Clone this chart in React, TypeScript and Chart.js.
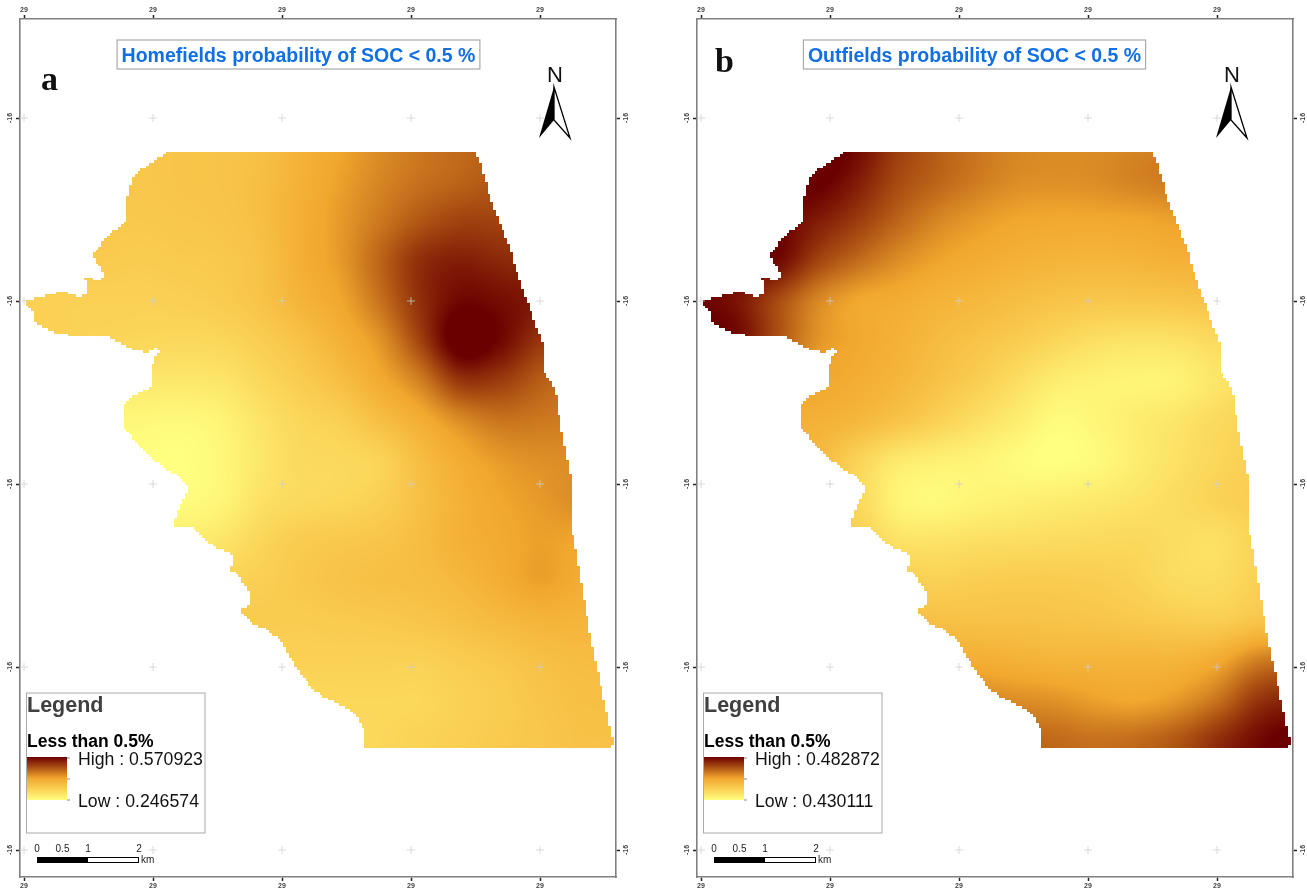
import React, { useEffect, useRef } from "react";
import { Chart, registerables } from "chart.js";

Chart.register(...registerables);

const FONT = '"Liberation Sans", Arial, sans-serif';
const SERIF = '"Liberation Serif", serif';

// Map axes
const lonTicks = [24, 153, 282, 411, 540];
const latTicks = [118, 301, 484, 667, 850];
const lonLabel = "29";
const latLabel = "-16";

// Raster sampling nodes
const lonNodes = [20, 60, 100, 140, 180, 220, 260, 300, 340, 380, 420, 460, 500, 540, 580, 620];
const latNodes = [140, 180, 220, 260, 300, 340, 380, 420, 460, 500, 540, 580, 620, 660, 700, 740, 780];

// Shared study-area outline
const outlineLon = [167,476,481,493,507,522,543,544,555,560,572,572,580,588,602,612,612,363,363,358,347,327,313,300,290,282,268,250,240,248,248,240,230,233,217,202,190,175,175,183,189,180,167,150,143,123,123,128,150,153,159,155,147,130,108,77,50,35,32,23,48,63,78,87,85,97,106,98,92,110,125,127,132,140,155];
const outlineLat = [152,152,165,207,241,288,345,372,389,425,484,531,575,626,693,737,746,746,730,718,708,698,690,673,657,642,630,622,610,605,592,577,570,554,548,537,525,527,517,498,488,477,470,457,450,427,407,398,387,360,352,347,353,348,337,337,331,322,310,301,295,291,297,292,276,280,276,265,254,233,222,197,177,170,160];

// Homefields probability (relative 0 = low, 100+ = high), one array per latitude node
const home140 = [31,31,31,31,32,33,35,43,50,58,64,68,72,72,72,72];
const home180 = [31,31,31,31,32,33,36,44,52,60,66,70,74,74,74,74];
const home220 = [30,30,30,30,31,32,36,45,54,64,74,80,80,80,80,80];
const home260 = [28,29,29,28,29,30,34,45,54,70,86,91,88,86,86,86];
const home300 = [25,25,25,25,26,28,33,42,50,66,86,98,96,92,90,90];
const home340 = [24,24,23,22,21,22,27,34,44,56,80,106,98,84,80,80];
const home380 = [15,14,13,13,13,14,21,28,36,48,62,84,82,72,66,66];
const home420 = [5,5,5,4,3,6,15,22,26,36,46,58,65,64,62,62];
const home460 = [2,2,2,1,0,4,13,20,21,24,37,47,54,57,58,58];
const home500 = [2,2,2,2,2,5,16,20,22,26,35,44,50,54,58,58];
const home540 = [8,8,8,8,10,14,22,28,30,32,37,44,48,52,50,50];
const home580 = [20,20,20,20,22,24,26,30,33,35,36,40,46,52,47,47];
const home620 = [28,28,28,28,28,28,28,28,29,30,32,35,39,42,42,42];
const home660 = [25,25,25,25,25,25,25,25,25,25,25,28,31,35,37,37];
const home700 = [22,22,22,22,22,22,22,22,22,22,22,25,28,32,35,35];
const home740 = [22,22,22,22,22,22,22,22,22,22,24,26,29,31,34,34];
const home780 = [22,22,22,22,22,22,22,22,22,22,24,26,29,31,34,34];

// Outfields probability
const out140 = [100,100,100,106,98,82,72,65,60,58,58,60,62,62,62,62];
const out180 = [100,100,100,102,92,78,70,63,58,57,58,61,63,63,63,63];
const out220 = [100,100,100,92,82,70,60,54,50,49,49,50,52,52,52,52];
const out260 = [100,100,98,80,68,58,51,47,44,42,41,42,44,44,44,44];
const out300 = [100,94,78,60,50,47,43,40,36,33,31,31,32,34,34,34];
const out340 = [100,95,75,56,49,44,38,33,28,22,17,15,16,20,20,20];
const out380 = [70,60,54,50,46,41,34,27,18,10,7,6,7,14,20,20];
const out420 = [50,48,46,44,40,33,25,17,10,2,5,10,14,20,24,24];
const out460 = [38,38,38,38,24,12,8,6,2,0,3,10,16,22,26,26];
const out500 = [34,34,34,30,22,6,3,6,8,10,12,15,19,24,27,27];
const out540 = [32,32,32,30,26,16,15,17,18,19,20,21,18,17,24,24];
const out580 = [32,32,32,32,30,28,25,27,28,28,27,24,19,19,25,26];
const out620 = [36,36,36,36,36,36,35,34,34,33,32,30,28,27,32,34];
const out660 = [46,46,46,46,46,46,46,46,44,42,42,42,42,48,62,66];
const out700 = [60,60,60,60,60,60,60,60,58,56,52,50,55,66,84,90];
const out740 = [72,72,72,72,72,72,72,72,70,68,66,68,74,86,97,104];
const out780 = [72,72,72,72,72,72,72,72,70,68,66,68,74,86,97,104];

const homeRows = [home140,home180,home220,home260,home300,home340,home380,home420,home460,home500,home540,home580,home620,home660,home700,home740,home780];
const outRows = [out140,out180,out220,out260,out300,out340,out380,out420,out460,out500,out540,out580,out620,out660,out700,out740,out780];

// Colour ramp (Yellow to Dark Red)
const rampStops = [[255,255,128],[250,209,85],[242,167,46],[173,83,19],[107,0,0]];

const homeInfo = { letter: "a", title: "Homefields probability of SOC < 0.5 %", high: "High : 0.570923", low: "Low : 0.246574" };
const outInfo = { letter: "b", title: "Outfields probability of SOC < 0.5 %", high: "High : 0.482872", low: "Low : 0.430111" };
const scaleLabels = ["0", "0.5", "1", "2"];

function rampColor(v: number) {
  const t = Math.max(0, Math.min(99.999, v)) / 25;
  const i = Math.floor(t);
  const f = t - i;
  const a = rampStops[i], b = rampStops[i + 1];
  return [a[0] + (b[0] - a[0]) * f, a[1] + (b[1] - a[1]) * f, a[2] + (b[2] - a[2]) * f];
}

function cubic(p0: number, p1: number, p2: number, p3: number, t: number) {
  return p1 + 0.5 * t * (p2 - p0 + t * (2 * p0 - 5 * p1 + 4 * p2 - p3 + t * (3 * (p1 - p2) + p3 - p0)));
}

const rasterPlugin = {
  id: "raster",
  beforeDatasetsDraw(chart: any) {
    const { ctx, scales } = chart;
    const xs = scales.x, ys = scales.y;
    const cells = chart.data.datasets[0].data as any[];
    const outline = chart.data.datasets[1].data as any[];
    const nx = lonNodes.length, ny = latNodes.length;
    const W = chart.width, H = chart.height;
    const grid = new Float32Array(nx * ny);
    cells.forEach((c: any, i: number) => (grid[i] = c.v));
    const at = (i: number, j: number) =>
      grid[Math.max(0, Math.min(ny - 1, j)) * nx + Math.max(0, Math.min(nx - 1, i))];

    // stair-stepped mask, like a coarse raster
    const cell = 2.8;
    const mw = Math.ceil(W / cell), mh = Math.ceil(H / cell);
    const maskCanvas = document.createElement("canvas");
    maskCanvas.width = mw;
    maskCanvas.height = mh;
    const mctx = maskCanvas.getContext("2d", { willReadFrequently: true }) as CanvasRenderingContext2D;
    mctx.beginPath();
    outline.forEach((p: any, i: number) => {
      const px = xs.getPixelForValue(p.x) / cell, py = ys.getPixelForValue(p.y) / cell;
      if (i) mctx.lineTo(px, py);
      else mctx.moveTo(px, py);
    });
    mctx.closePath();
    mctx.fillStyle = "#000";
    mctx.fill();
    const mask = mctx.getImageData(0, 0, mw, mh).data;

    const off = document.createElement("canvas");
    off.width = W;
    off.height = H;
    const octx = off.getContext("2d") as CanvasRenderingContext2D;
    const img = octx.createImageData(W, H);
    const x0 = lonNodes[0], dx = lonNodes[1] - lonNodes[0];
    const y0 = latNodes[0], dy = latNodes[1] - latNodes[0];
    for (let py = 0; py < H; py++) {
      const my = Math.floor(py / cell);
      const gy = (ys.getValueForPixel(py) - y0) / dy;
      const j = Math.floor(gy), ty = gy - j;
      for (let px = 0; px < W; px++) {
        const mx = Math.floor(px / cell);
        if (mask[(my * mw + mx) * 4 + 3] < 128) continue;
        const gx = (xs.getValueForPixel(px) - x0) / dx;
        const i = Math.floor(gx), tx = gx - i;
        const col = [-1, 0, 1, 2].map((o) =>
          cubic(at(i - 1, j + o), at(i, j + o), at(i + 1, j + o), at(i + 2, j + o), tx)
        );
        const c = rampColor(cubic(col[0], col[1], col[2], col[3], ty));
        const k = (py * W + px) * 4;
        img.data[k] = c[0];
        img.data[k + 1] = c[1];
        img.data[k + 2] = c[2];
        img.data[k + 3] = 255;
      }
    }
    octx.putImageData(img, 0, 0);
    ctx.save();
    (ctx as any).filter = "blur(0.6px)";
    ctx.drawImage(off, 0, 0);
    ctx.restore();
  },
};

const overlayPlugin = {
  id: "overlay",
  afterDatasetsDraw(chart: any, _args: any, opts: any) {
    const ctx: CanvasRenderingContext2D = chart.ctx;
    const info = opts.info;
    ctx.save();
    ctx.textBaseline = "alphabetic";
    ctx.textAlign = "left";

    // letter
    ctx.fillStyle = "#111";
    ctx.font = `bold 34px ${SERIF}`;
    ctx.fillText(info.letter, info.letter === "a" ? 41 : 38, info.letter === "a" ? 90 : 72);

    // title box
    ctx.font = `bold 19.5px ${FONT}`;
    const tw = ctx.measureText(info.title).width;
    const cx = info.letter === "a" ? 298.5 : 297.5;
    const boxW = tw + 9;
    ctx.fillStyle = "#fff";
    ctx.fillRect(cx - boxW / 2, 40, boxW, 29);
    ctx.strokeStyle = "#aaa";
    ctx.lineWidth = 1.2;
    ctx.strokeRect(cx - boxW / 2, 40, boxW, 29);
    ctx.fillStyle = "#0f6fe3";
    ctx.fillText(info.title, cx - tw / 2, 62);

    // north arrow
    ctx.fillStyle = "#111";
    ctx.font = `22px ${FONT}`;
    ctx.textAlign = "center";
    ctx.fillText("N", 555, 82);
    ctx.textAlign = "left";
    ctx.beginPath();
    ctx.moveTo(554, 87);
    ctx.lineTo(539, 138);
    ctx.lineTo(554, 120);
    ctx.closePath();
    ctx.fillStyle = "#000";
    ctx.fill();
    ctx.beginPath();
    ctx.moveTo(554, 87);
    ctx.lineTo(570, 138);
    ctx.lineTo(554, 120);
    ctx.closePath();
    ctx.fillStyle = "#fff";
    ctx.fill();
    ctx.strokeStyle = "#000";
    ctx.lineWidth = 1.3;
    ctx.stroke();

    // legend box
    ctx.fillStyle = "#fff";
    ctx.fillRect(26.5, 693, 178.5, 140);
    ctx.strokeStyle = "#aaa";
    ctx.lineWidth = 1;
    ctx.strokeRect(26.5, 693, 178.5, 140);
    ctx.fillStyle = "#404040";
    ctx.font = `bold 21.5px ${FONT}`;
    ctx.fillText("Legend", 27, 712);
    ctx.fillStyle = "#000";
    ctx.font = `bold 17.5px ${FONT}`;
    ctx.fillText("Less than 0.5%", 27, 747);
    const g = ctx.createLinearGradient(0, 757, 0, 800);
    rampStops.forEach((s, i) => g.addColorStop(1 - i / (rampStops.length - 1), `rgb(${s[0]},${s[1]},${s[2]})`));
    ctx.fillStyle = g;
    ctx.fillRect(27, 757, 40, 43);
    ctx.strokeStyle = "#888";
    ctx.lineWidth = 1;
    [758, 779, 800].forEach((y) => {
      ctx.beginPath();
      ctx.moveTo(67, y);
      ctx.lineTo(70, y);
      ctx.stroke();
    });
    ctx.fillStyle = "#111";
    ctx.font = `17.7px ${FONT}`;
    ctx.fillText(info.high, 78, 765);
    ctx.fillText(info.low, 78, 807);

    // scale bar
    ctx.fillStyle = "#000";
    ctx.fillRect(37, 857, 51, 6);
    ctx.strokeStyle = "#000";
    ctx.lineWidth = 1;
    ctx.strokeRect(37.5, 857.5, 101, 5);
    ctx.fillStyle = "#222";
    ctx.font = `10px ${FONT}`;
    ctx.textAlign = "center";
    const scaleX = [37, 62.5, 88, 139];
    scaleLabels.forEach((t, i) => ctx.fillText(t, scaleX[i], 852));
    ctx.textAlign = "left";
    ctx.fillText("km", 141, 863);
    ctx.restore();
  },
};

function axis(position: string, isLon: boolean, reach: number, crossAlign?: string) {
  const ticksList = isLon ? lonTicks : latTicks;
  return {
    type: "linear",
    position,
    min: isLon ? 20 : 19,
    max: isLon ? 616 : 877,
    reverse: !isLon,
    afterBuildTicks: (s: any) => {
      s.ticks = ticksList.map((value) => ({ value }));
    },
    afterFit: (s: any) => {
      if (isLon) s.height = reach;
      else s.width = reach;
    },
    border: { display: true, color: "#808080", width: 1.6 },
    grid: { drawOnChartArea: false, drawTicks: true, tickLength: 4, tickColor: "#222", tickWidth: 1.5 },
    ticks: {
      autoSkip: false,
      padding: 1,
      color: "#444",
      font: { size: 7, weight: "bold", family: FONT },
      minRotation: isLon ? 0 : 90,
      maxRotation: isLon ? 0 : 90,
      ...(crossAlign ? { crossAlign } : {}),
      callback: () => (isLon ? lonLabel : latLabel),
    },
  };
}

function MapPanel({ rows, info, left }: { rows: number[][]; info: any; left: number }) {
  const ref = useRef<HTMLCanvasElement | null>(null);
  useEffect(() => {
    if (!ref.current) return;
    const cells = latNodes.flatMap((y, j) => lonNodes.map((x, i) => ({ x, y, v: rows[j][i] })));
    const outline = outlineLon.map((x, i) => ({ x, y: outlineLat[i] }));
    const crosses = lonTicks.flatMap((x) => latTicks.map((y) => ({ x, y })));
    const chart = new Chart(ref.current, {
      type: "scatter",
      data: {
        datasets: [
          { label: "probability", data: cells, pointRadius: 0 },
          { label: "outline", data: outline, pointRadius: 0, showLine: false },
          {
            label: "graticule",
            data: crosses,
            pointStyle: "cross",
            pointRadius: 4,
            borderColor: "rgba(205,205,205,0.75)",
            borderWidth: 1,
            clip: false,
          },
        ],
      } as any,
      options: {
        responsive: false,
        animation: false,
        events: [],
        layout: { padding: 0 },
        plugins: { legend: { display: false }, tooltip: { enabled: false }, overlay: { info } } as any,
        scales: {
          x: axis("bottom", true, 14),
          x2: axis("top", true, 19),
          y: axis("left", false, 20, "center"),
          y2: axis("right", false, 14, "center"),
        } as any,
      },
      plugins: [rasterPlugin, overlayPlugin],
    } as any);
    return () => chart.destroy();
  }, []);
  return (
    <canvas
      ref={ref}
      width={630}
      height={891}
      style={{ position: "absolute", left, top: 0, width: 630, height: 891, display: "block" }}
    />
  );
}

export default function App() {
  return (
    <div style={{ position: "absolute", left: 0, top: 0, width: 1307, height: 891, background: "#fff", overflow: "hidden" }}>
      <MapPanel rows={homeRows} info={homeInfo} left={0} />
      <MapPanel rows={outRows} info={outInfo} left={677} />
    </div>
  );
}
